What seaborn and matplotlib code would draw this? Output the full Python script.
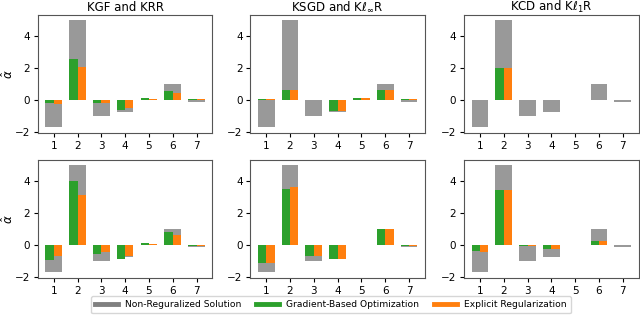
import numpy as np
import pandas as pd
import matplotlib
matplotlib.use("Agg")
import matplotlib.pyplot as plt
from matplotlib.lines import Line2D
import seaborn as sns

idx = [1, 2, 3, 4, 5, 6, 7]
gray_vals = [-1.7, 5.0, -1.0, -0.75, 0.03, 1.02, -0.1]

titles = ["KGF and KRR", r"KSGD and K$\ell_\infty$R", r"KCD and K$\ell_1$R"]

green_top_left = [-0.2, 2.55, -0.2, -0.62, 0.12, 0.55, 0.08]
orange_top_left = [-0.25, 2.05, -0.2, -0.48, 0.08, 0.45, 0.05]
green_top_mid = [0.05, 0.62, 0.0, -0.65, 0.15, 0.62, 0.05]
orange_top_mid = [0.05, 0.62, -0.02, -0.65, 0.15, 0.62, 0.05]
green_top_right = [0.0, 2.0, 0.0, 0.0, 0.02, 0.0, 0.0]
orange_top_right = [0.0, 2.0, 0.0, 0.0, 0.02, 0.0, 0.0]

green_bot_left = [-0.95, 4.0, -0.55, -0.85, 0.12, 0.8, -0.05]
orange_bot_left = [-0.7, 3.15, -0.45, -0.65, 0.08, 0.65, -0.05]
green_bot_mid = [-1.1, 3.5, -0.65, -0.85, 0.02, 1.0, -0.08]
orange_bot_mid = [-1.1, 3.65, -0.7, -0.85, 0.02, 1.0, -0.08]
green_bot_right = [-0.35, 3.45, -0.08, -0.25, 0.01, 0.28, -0.02]
orange_bot_right = [-0.4, 3.45, -0.08, -0.25, 0.01, 0.28, -0.02]

greens = [[green_top_left, green_top_mid, green_top_right],
          [green_bot_left, green_bot_mid, green_bot_right]]
oranges = [[orange_top_left, orange_top_mid, orange_top_right],
           [orange_bot_left, orange_bot_mid, orange_bot_right]]

legend_labels = ["Non-Reguralized Solution", "Gradient-Based Optimization", "Explicit Regularization"]
c_gray, c_green, c_orange = "gray", "#2ca02c", "#ff7f0e"

fig = plt.figure(figsize=(6.4, 3.18), dpi=100)
lefts = [0.059, 0.391, 0.725]
bottoms = [0.582, 0.126]
w, h = 0.273, 0.371

order = [str(i) for i in idx]
for r in range(2):
    for c in range(3):
        ax = fig.add_axes([lefts[c], bottoms[r], w, h])
        dfg = pd.DataFrame({"i": order, "v": gray_vals})
        sns.barplot(data=dfg, x="i", y="v", order=order, color=c_gray, alpha=0.8,
                    width=0.7, saturation=1, errorbar=None, ax=ax)
        dfm = pd.DataFrame({
            "i": order + order,
            "v": list(greens[r][c]) + list(oranges[r][c]),
            "m": ["g"] * 7 + ["o"] * 7,
        })
        sns.barplot(data=dfm, x="i", y="v", hue="m", order=order, hue_order=["g", "o"],
                    palette=[c_green, c_orange], width=0.7, saturation=1, dodge=True,
                    errorbar=None, legend=False, ax=ax)
        ax.set_xlim(-0.67, 6.67)
        ax.set_ylim(-2.05, 5.33)
        ax.set_yticks([-2, 0, 2, 4])
        ax.set_xlabel("")
        if c == 0:
            ax.set_ylabel(r"$\hat{\alpha}$", fontsize=8.5)
            ax.yaxis.set_label_coords(-0.125, 0.5)
        else:
            ax.set_ylabel("")
        ax.tick_params(labelsize=7.5, length=3, pad=2.5)
        if r == 0:
            ax.set_title(titles[c], fontsize=8.5, pad=3)
        for s in ax.spines.values():
            s.set_color("#555555")

handles = [Line2D([0], [0], color=col, lw=3.5) for col in (c_gray, c_green, c_orange)]
fig.legend(handles, legend_labels, loc="lower center", ncol=3, fontsize=6.6,
           bbox_to_anchor=(0.517, 0.0), frameon=True, handlelength=2.5,
           columnspacing=1.6, borderpad=0.45)

fig.savefig("out.png", dpi=100)
